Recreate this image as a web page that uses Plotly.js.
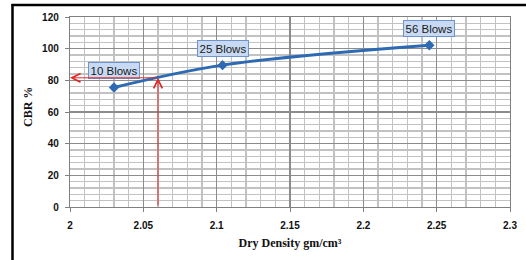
<!DOCTYPE html>
<html>
<head>
<meta charset="utf-8">
<script src="https://cdn.plot.ly/plotly-3.0.1.min.js"></script>
<style>
html,body{margin:0;padding:0;background:#fff;}
#chart{width:526px;height:260px;}
</style>
</head>
<body>
<div id="chart"></div>
<script>
// Data
var dryDensity = [2.03, 2.104, 2.245];
var cbrValues = [75.5, 89.6, 102.2];
var blowLabels = ["10 Blows", "25 Blows", "56 Blows"];
var refDensity = 2.06;
var refCBR = 81.6;
var xTickVals = [2, 2.05, 2.1, 2.15, 2.2, 2.25, 2.3];
var xTickText = ["2", "2.05", "2.1", "2.15", "2.2", "2.25", "2.3"];
var yTickVals = [0, 20, 40, 60, 80, 100, 120];
var xTitle = 'Dry Density gm/cm³';
var yTitle = 'CBR %';

var L = 70, R = 16, T = 17, B = 53, W = 526, H = 260;
var pw = W - L - R, ph = H - T - B;
function px(x){ return (x - L) / pw; }
function py(y){ return (H - B - y) / ph; }

var trace = {
  x: dryDensity, y: cbrValues, mode: 'lines+markers', type: 'scatter',
  line: {color: '#2E6AB3', width: 3, shape: 'spline', smoothing: 1},
  marker: {symbol: 'diamond', size: 8, color: '#2E6AB3'},
  hoverinfo: 'skip', showlegend: false
};

var tickFont = {family: 'Liberation Sans, Arial', size: 10, color: '#111', weight: 'bold'};
var titleFont = {family: 'Liberation Serif, Times New Roman', size: 12, color: '#111', weight: 'bold'};

var annotations = blowLabels.map(function(t, i){
  return {
    x: dryDensity[i], y: cbrValues[i], xref: 'x', yref: 'y',
    text: t, showarrow: false, yshift: 17,
    font: {family: 'Liberation Sans, Arial', size: 11.5, color: '#1a1a1a'},
    bgcolor: '#C8DAF3', bordercolor: '#6F93CB', borderwidth: 1, borderpad: 1.5
  };
});
// Red reference arrows
annotations.push({
  x: refDensity, y: refCBR, ax: refDensity, ay: 0, xref: 'x', yref: 'y', axref: 'x', ayref: 'y',
  showarrow: true, arrowhead: 5, arrowsize: 1.7, arrowwidth: 1, arrowcolor: '#E02828', text: ''
});
annotations.push({
  x: 2.0, y: refCBR, ax: refDensity, ay: refCBR, xref: 'x', yref: 'y', axref: 'x', ayref: 'y',
  showarrow: true, arrowhead: 5, arrowsize: 1.7, arrowwidth: 1, arrowcolor: '#E02828', text: ''
});
// Y axis title placed as rotated text
annotations.push({
  xref: 'paper', yref: 'paper', x: px(28), y: py(107), xanchor: 'center', yanchor: 'middle',
  text: yTitle, textangle: -90, showarrow: false, font: titleFont
});

var shapes = [
  {type: 'line', xref: 'paper', yref: 'paper', x0: px(12.5), x1: px(12.5), y0: py(4), y1: py(262), line: {color: '#000', width: 2.5}},
  {type: 'line', xref: 'paper', yref: 'paper', x0: px(11.5), x1: px(528), y0: py(5), y1: py(5), line: {color: '#000', width: 2.5}}
];

var layout = {
  width: W, height: H,
  margin: {l: L, r: R, t: T, b: B, pad: 0},
  paper_bgcolor: '#fff', plot_bgcolor: '#fff',
  xaxis: {
    range: [2, 2.3], tickvals: xTickVals, ticktext: xTickText,
    showgrid: true, gridcolor: '#8C8C8C', gridwidth: 1.2,
    minor: {dtick: 0.01, showgrid: true, gridcolor: '#C2C2C2', gridwidth: 1.5},
    showline: true, linecolor: '#808080', linewidth: 1.2, mirror: true,
    ticks: 'outside', ticklen: 4, tickcolor: '#808080',
    tickfont: tickFont, zeroline: false, fixedrange: true,
    ticklabelstandoff: 5,
    title: {text: xTitle, font: titleFont, standoff: 8}
  },
  yaxis: {
    range: [0, 120], tickvals: yTickVals,
    showgrid: true, gridcolor: '#8C8C8C', gridwidth: 1.2,
    minor: {dtick: 4, showgrid: true, gridcolor: '#C2C2C2', gridwidth: 1.5},
    showline: true, linecolor: '#808080', linewidth: 1.2, mirror: true,
    ticks: 'outside', ticklen: 4, tickcolor: '#808080',
    tickfont: tickFont, zeroline: false, fixedrange: true,
    ticklabelstandoff: 4
  },
  annotations: annotations,
  shapes: shapes
};

Plotly.newPlot('chart', [trace], layout, {displayModeBar: false, staticPlot: true});
</script>
</body>
</html>
